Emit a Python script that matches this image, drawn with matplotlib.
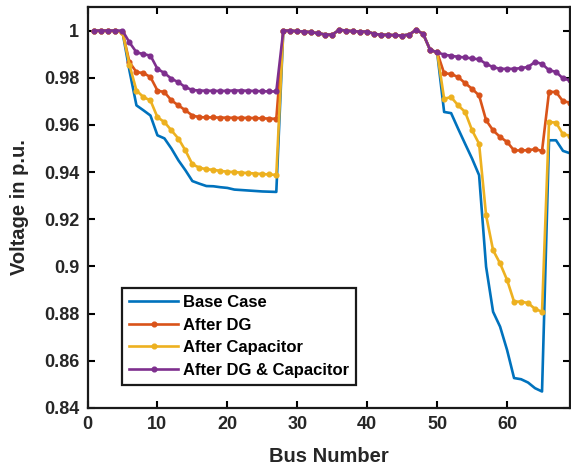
import matplotlib
matplotlib.use("Agg")
import matplotlib.pyplot as plt
import numpy as np

buses = list(range(1, 70))

base_case = [
    1.0, 1.0, 1.0, 0.9999, 0.9995, 0.9830, 0.9683, 0.9662, 0.9640, 0.9556,
    0.9543, 0.9500, 0.9450, 0.9408, 0.9362, 0.9351, 0.9341, 0.9340, 0.9336, 0.9333,
    0.9326, 0.9324, 0.9322, 0.9320, 0.9318, 0.9317, 0.9316,
    1.0, 1.0, 0.9997, 0.9996, 0.9993, 0.9989, 0.9983, 0.9983,
    1.0003, 1.0, 0.9997, 0.9996, 0.9996, 0.9986, 0.9982, 0.9982, 0.9980, 0.9979, 0.9983,
    1.0003, 0.9986, 0.9918, 0.9908,
    0.9655, 0.9650, 0.9584, 0.9520, 0.9457, 0.9387, 0.8999, 0.8808, 0.8745, 0.8646,
    0.8527, 0.8522, 0.8508, 0.8484, 0.8470,
    0.9535, 0.9535, 0.9490, 0.9480,
]

after_dg = [
    1.0, 1.0, 1.0, 0.9999, 0.9995, 0.9866, 0.9824, 0.9820, 0.9803, 0.9746,
    0.9739, 0.9704, 0.9683, 0.9662, 0.9640, 0.9633, 0.9632, 0.9632, 0.9631, 0.9631,
    0.9630, 0.9630, 0.9630, 0.9629, 0.9628, 0.9627, 0.9626,
    1.0, 1.0, 0.9997, 0.9996, 0.9993, 0.9989, 0.9983, 0.9983,
    1.0003, 1.0, 0.9997, 0.9996, 0.9996, 0.9986, 0.9982, 0.9982, 0.9980, 0.9979, 0.9983,
    1.0003, 0.9986, 0.9918, 0.9908,
    0.9819, 0.9816, 0.9803, 0.9777, 0.9753, 0.9725, 0.9620, 0.9577, 0.9549, 0.9528,
    0.9492, 0.9492, 0.9493, 0.9497, 0.9490,
    0.9740, 0.9740, 0.9700, 0.9695,
]

after_capacitor = [
    1.0, 1.0, 1.0, 0.9999, 0.9995, 0.9855, 0.9746, 0.9718, 0.9704, 0.9633,
    0.9612, 0.9577, 0.9542, 0.9492, 0.9433, 0.9419, 0.9412, 0.9410, 0.9405, 0.9402,
    0.9400, 0.9398, 0.9396, 0.9394, 0.9392, 0.9390, 0.9388,
    1.0, 1.0, 0.9997, 0.9996, 0.9993, 0.9989, 0.9983, 0.9983,
    1.0003, 1.0, 0.9997, 0.9996, 0.9996, 0.9986, 0.9982, 0.9982, 0.9980, 0.9979, 0.9983,
    1.0003, 0.9986, 0.9918, 0.9908,
    0.9711, 0.9718, 0.9683, 0.9655, 0.9577, 0.9520, 0.9217, 0.9069, 0.9013, 0.8943,
    0.8851, 0.8851, 0.8845, 0.8820, 0.8808,
    0.9612, 0.9610, 0.9560, 0.9555,
]

after_dg_capacitor = [
    1.0, 1.0, 1.0, 1.0, 1.0, 0.9950, 0.9908, 0.9900, 0.9894, 0.9838,
    0.9820, 0.9796, 0.9781, 0.9760, 0.9748, 0.9746, 0.9745, 0.9745, 0.9744, 0.9745,
    0.9746, 0.9746, 0.9745, 0.9744, 0.9743, 0.9742, 0.9742,
    1.0, 1.0, 0.9997, 0.9996, 0.9993, 0.9989, 0.9983, 0.9983,
    1.0003, 1.0, 0.9997, 0.9996, 0.9996, 0.9986, 0.9982, 0.9982, 0.9980, 0.9979, 0.9983,
    1.0003, 0.9986, 0.9918, 0.9908,
    0.9898, 0.9893, 0.9889, 0.9886, 0.9882, 0.9878, 0.9859, 0.9845, 0.9838, 0.9838,
    0.9838, 0.9841, 0.9846, 0.9867, 0.9859,
    0.9832, 0.9825, 0.9797, 0.9789,
]

labels = ["Base Case", "After DG", "After Capacitor", "After DG & Capacitor"]
xticks = [0, 10, 20, 30, 40, 50, 60]
yticks = [0.84, 0.86, 0.88, 0.9, 0.92, 0.94, 0.96, 0.98, 1.0]
ytick_labels = ["0.84", "0.86", "0.88", "0.9", "0.92", "0.94", "0.96", "0.98", "1"]

plt.rcParams['font.family'] = ['Liberation Sans', 'DejaVu Sans']
plt.rcParams['font.weight'] = 'bold'

fig = plt.figure(figsize=(5.71, 4.68), dpi=100)
ax = fig.add_axes([87.5 / 571, 1 - 408 / 468, (570 - 87.5) / 571, (408 - 7) / 468])

ax.plot(buses, base_case, color='#0072BD', lw=1.9, label=labels[0])
ax.plot(buses, after_dg, color='#D95319', lw=1.9, marker='o', ms=3.4, label=labels[1])
ax.plot(buses, after_capacitor, color='#EDB120', lw=1.9, marker='o', ms=3.4, label=labels[2])
ax.plot(buses, after_dg_capacitor, color='#7E2F8E', lw=1.9, marker='o', ms=3.4, label=labels[3])

ax.set_xlim(0, 69)
ax.set_ylim(0.84, 1.01)
ax.set_xticks(xticks)
ax.set_yticks(yticks)
ax.set_yticklabels(ytick_labels)
ax.tick_params(direction='in', length=5, width=1.5, top=True, right=True,
               labelsize=13, pad=6)
for lab in ax.get_xticklabels() + ax.get_yticklabels():
    lab.set_fontweight('bold')
    lab.set_color('#262626')
for s in ax.spines.values():
    s.set_linewidth(1.6)
    s.set_color('#1a1a1a')

ax.set_xlabel("Bus Number", fontsize=14.5, fontweight='bold', color='#262626', labelpad=10)
ax.set_ylabel("Voltage in p.u.", fontsize=14.5, fontweight='bold', color='#262626', labelpad=11)

leg = ax.legend(loc='lower left', bbox_to_anchor=(0.0715, 0.057), borderaxespad=0,
                prop={'weight': 'bold', 'size': 12}, handlelength=2.9,
                labelspacing=0.45, handletextpad=0.3, borderpad=0.45,
                fancybox=False, framealpha=1, edgecolor='#1a1a1a')
leg.get_frame().set_linewidth(1.6)

fig.savefig("out.png", dpi=100)
